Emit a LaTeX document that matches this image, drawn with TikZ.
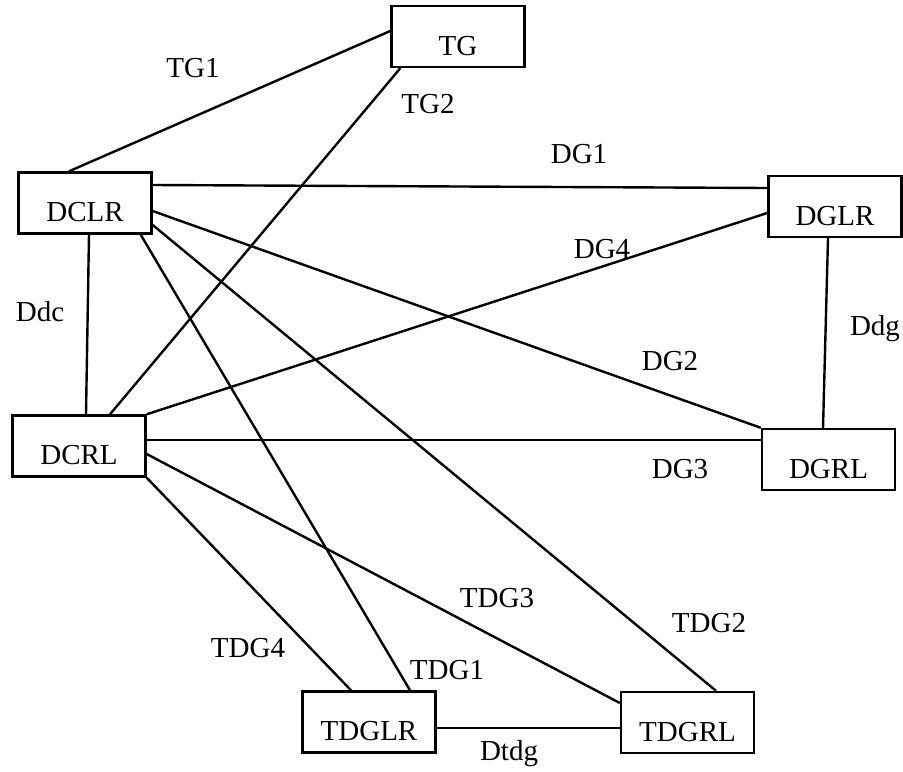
\documentclass[tikz,border=0pt]{standalone}
\usepackage{fontspec}
\setmainfont{Liberation Serif}
\usetikzlibrary{calc}
\tikzstyle{box} = [draw, line width=1.2pt, minimum width=66.5pt, minimum height=30.5pt, inner sep=0pt, text height=18.5pt, text depth=0pt]
\tikzstyle{lbl} = [inner sep=0pt, anchor=base]
\tikzstyle{link} = [line width=1.2pt]

\begin{document}
\begin{tikzpicture}[x=0.5pt, y=-0.5pt, font=\fontsize{14.5}{16}\selectfont]
    \useasboundingbox (0,0) rectangle (903,771);
    % create the nodes
    \node (TG) [box] at (458,36.5) {TG};
    \node (DCLR) [box] at (85,203) {DCLR};
    \node (DGLR) [box] at (835,206.5) {DGLR};
    \node (DCRL) [box] at (79,446) {DCRL};
    \node (DGRL) [box] at (828.5,459.5) {DGRL};
    \node (TDGLR) [box] at (369,722) {TDGLR};
    \node (TDGRL) [box] at (687.5,722.5) {TDGRL};

    % link labels
    \node (tg1) [lbl] at (193,77) {TG1};
    \node (tg2) [lbl] at (428,113) {TG2};
    \node (dg1) [lbl] at (579,163) {DG1};
    \node (dg4) [lbl] at (602,258) {DG4};
    \node (ddc) [lbl] at (40,321) {Ddc};
    \node (ddg) [lbl] at (875,335) {Ddg};
    \node (dg2) [lbl] at (670,370) {DG2};
    \node (dg3) [lbl] at (680,478) {DG3};
    \node (tdg3) [lbl] at (497,607) {TDG3};
    \node (tdg2) [lbl] at (709,632) {TDG2};
    \node (tdg1) [lbl] at (447,679) {TDG1};
    \node (tdg4) [lbl] at (248,657) {TDG4};
    \node (dtdg) [lbl] at (509,760) {Dtdg};

    % connect the nodes
    \draw[link] ($(DCLR.north)+(-16,0)$) -- ($(TG.west)+(0,-5.5)$);
    \draw[link] ($(TG.south west)+(10,0)$) -- ($(DCRL.north)+(31,0)$);
    \draw[link] ($(DCLR.east)+(0,-18)$) -- ($(DGLR.west)+(0,-18.5)$);
    \draw[link] ($(DCLR.south)+(4,0)$) -- ($(DCRL.north)+(7,0)$);
    \draw[link] (DCRL.north east) -- ($(DGLR.west)+(0,6.5)$);
    \draw[link] ($(DCLR.east)+(0,8)$) -- (DGRL.north west);
    \draw[link] ($(DCRL.east)+(0,-6)$) -- ($(DGRL.west)+(0,-19.5)$);
    \draw[link] ($(DGLR.south)+(-7,0)$) -- ($(DGRL.north)+(-5.5,0)$);
    \draw[link] ($(DCLR.south east)+(-12,0)$) -- ($(TDGLR.north)+(41,0)$);
    \draw[link] ($(DCLR.east)+(0,22)$) -- ($(TDGRL.north)+(28.5,0)$);
    \draw[link] ($(DCRL.east)+(0,8)$) -- ($(TDGRL.west)+(0,-19.5)$);
    \draw[link] (DCRL.south east) -- ($(TDGLR.north)+(-18,0)$);
    \draw[link] ($(TDGLR.east)+(0,6)$) -- ($(TDGRL.west)+(0,5.5)$);

\end{tikzpicture}
\end{document}
